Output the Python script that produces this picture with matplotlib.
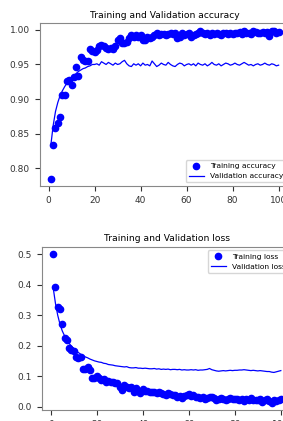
import matplotlib
matplotlib.use('Agg')
import matplotlib.pyplot as plt

# 학습 결과
acc = [0.785, 0.834, 0.858, 0.865, 0.874, 0.906, 0.906, 0.926, 0.928, 0.920,
       0.932, 0.947, 0.933, 0.961, 0.957, 0.955, 0.955, 0.972, 0.970, 0.968,
       0.971, 0.976, 0.978, 0.976, 0.974, 0.973, 0.974, 0.973, 0.976, 0.985,
       0.988, 0.981, 0.981, 0.983, 0.988, 0.993, 0.990, 0.992, 0.990, 0.993,
       0.985, 0.985, 0.990, 0.988, 0.990, 0.992, 0.995, 0.992, 0.994, 0.994,
       0.993, 0.994, 0.995, 0.994, 0.995, 0.988, 0.989, 0.995, 0.992, 0.994,
       0.996, 0.989, 0.992, 0.994, 0.995, 0.999, 0.995, 0.994, 0.995, 0.993,
       0.995, 0.994, 0.996, 0.994, 0.993, 0.995, 0.996, 0.994, 0.995, 0.994,
       0.996, 0.995, 0.997, 0.994, 0.998, 0.995, 0.996, 0.994, 0.998, 0.997,
       0.996, 0.995, 0.997, 0.996, 0.997, 0.991, 0.998, 0.999, 0.995, 0.997]
val_acc = [0.834, 0.862, 0.882, 0.895, 0.905, 0.912, 0.918, 0.923, 0.928, 0.931,
           0.934, 0.937, 0.940, 0.942, 0.944, 0.945, 0.947, 0.948, 0.950, 0.950,
           0.951, 0.949, 0.954, 0.952, 0.950, 0.953, 0.951, 0.949, 0.952, 0.950,
           0.951, 0.954, 0.956, 0.951, 0.948, 0.947, 0.951, 0.949, 0.951, 0.948,
           0.952, 0.949, 0.950, 0.948, 0.955, 0.951, 0.947, 0.949, 0.952, 0.950,
           0.949, 0.953, 0.950, 0.948, 0.947, 0.950, 0.952, 0.951, 0.948, 0.950,
           0.951, 0.949, 0.951, 0.948, 0.952, 0.950, 0.949, 0.951, 0.948, 0.950,
           0.953, 0.950, 0.949, 0.951, 0.948, 0.950, 0.952, 0.951, 0.949, 0.950,
           0.952, 0.950, 0.949, 0.951, 0.953, 0.951, 0.949, 0.950, 0.948, 0.950,
           0.951, 0.949, 0.950, 0.952, 0.950, 0.949, 0.951, 0.950, 0.948, 0.949]
loss = [0.500, 0.391, 0.328, 0.319, 0.271, 0.224, 0.218, 0.193, 0.186, 0.182,
        0.164, 0.158, 0.164, 0.122, 0.122, 0.129, 0.120, 0.093, 0.093, 0.100,
        0.093, 0.087, 0.090, 0.082, 0.085, 0.081, 0.082, 0.076, 0.079, 0.065,
        0.055, 0.071, 0.065, 0.060, 0.065, 0.049, 0.060, 0.050, 0.046, 0.057,
        0.050, 0.051, 0.047, 0.049, 0.047, 0.044, 0.049, 0.044, 0.042, 0.038,
        0.044, 0.040, 0.037, 0.039, 0.033, 0.036, 0.029, 0.034, 0.038, 0.041,
        0.034, 0.037, 0.031, 0.033, 0.027, 0.030, 0.026, 0.029, 0.031, 0.033,
        0.027, 0.022, 0.026, 0.029, 0.025, 0.023, 0.026, 0.027, 0.024, 0.026,
        0.025, 0.021, 0.024, 0.018, 0.026, 0.023, 0.027, 0.020, 0.023, 0.021,
        0.024, 0.016, 0.022, 0.025, 0.019, 0.013, 0.021, 0.017, 0.022, 0.024]
val_loss = [0.392, 0.340, 0.300, 0.270, 0.248, 0.232, 0.218, 0.207, 0.198, 0.190,
            0.183, 0.177, 0.172, 0.167, 0.163, 0.160, 0.156, 0.153, 0.150, 0.148,
            0.146, 0.145, 0.142, 0.141, 0.138, 0.137, 0.136, 0.134, 0.133, 0.132,
            0.131, 0.130, 0.131, 0.128, 0.127, 0.127, 0.128, 0.126, 0.126, 0.125,
            0.126, 0.125, 0.124, 0.124, 0.125, 0.123, 0.124, 0.122, 0.123, 0.122,
            0.123, 0.121, 0.122, 0.122, 0.121, 0.122, 0.120, 0.121, 0.120, 0.120,
            0.121, 0.120, 0.121, 0.119, 0.120, 0.120, 0.121, 0.122, 0.125, 0.121,
            0.119, 0.117, 0.116, 0.117, 0.118, 0.117, 0.118, 0.119, 0.118, 0.119,
            0.119, 0.120, 0.120, 0.121, 0.120, 0.119, 0.118, 0.119, 0.118, 0.117,
            0.118, 0.117, 0.116, 0.115, 0.115, 0.113, 0.112, 0.114, 0.116, 0.118]
epochs = range(1, len(acc) + 1)

plt.rcParams['font.size'] = 6.5
plt.rcParams['axes.edgecolor'] = '#888888'
plt.rcParams['xtick.color'] = '#333333'
plt.rcParams['ytick.color'] = '#333333'

fig = plt.figure(figsize=(2.83, 4.21), dpi=100)

# 위: 정확도
ax1 = fig.add_axes([39.5 / 283, 0.558, 250.5 / 283, 0.387])
ax1.plot(epochs, acc, 'bo', markersize=4.5, label='Training accuracy')
ax1.plot(epochs, val_acc, 'b', linewidth=0.9, label='Validation accuracy')
ax1.set_title('Training and Validation accuracy', fontsize=6.6, pad=4)
ax1.set_xticks([0, 20, 40, 60, 80, 100])
ax1.legend(loc='lower right', fontsize=5.4)

# 아래: 손실
ax2 = fig.add_axes([41.7 / 283, 0.026, 250.5 / 283, 0.388])
ax2.plot(epochs, loss, 'bo', markersize=4.5, label='Training loss')
ax2.plot(epochs, val_loss, 'b', linewidth=0.9, label='Validation loss')
ax2.set_title('Training and Validation loss', fontsize=6.6, pad=4)
ax2.set_xticks([0, 20, 40, 60, 80, 100])
ax2.legend(loc='upper right', fontsize=5.4)

plt.savefig('out.png', dpi=100)
